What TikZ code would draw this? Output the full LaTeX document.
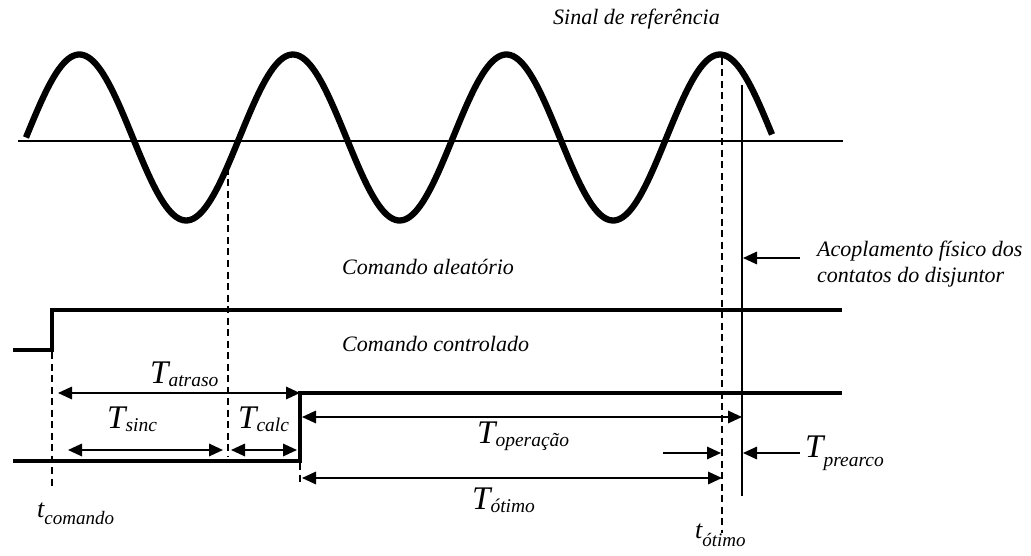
\documentclass[tikz,border=0pt]{standalone}
\usepackage{fontspec}
\setmainfont{Liberation Serif}
\usetikzlibrary{arrows.meta}
\newcommand{\Tlab}[3]{{\fontsize{33}{33}\selectfont\itshape #1}\raisebox{-#3}{\fontsize{19.5}{19.5}\selectfont\itshape #2}}
\newcommand{\tlab}[3]{{\fontsize{26}{26}\selectfont\itshape #1}\raisebox{-#3}{\fontsize{19}{19}\selectfont\itshape #2}}
\begin{document}
\begin{tikzpicture}[x=1pt,y=-1pt,
  sig/.style={line width=3.4pt},
  thinln/.style={line width=1.6pt},
  dsh/.style={line width=1.8pt, dash pattern=on 7pt off 4.5pt},
  dimarr/.style={line width=1.7pt, {Triangle[length=14pt,width=12.5pt]}-{Triangle[length=14pt,width=12.5pt]}},
  onearr/.style={line width=1.7pt, -{Triangle[length=14pt,width=12.5pt]}},
  lab/.style={font={\fontsize{22}{26}\selectfont\itshape}, inner sep=0pt, anchor=base west},
  tl/.style={inner sep=0pt, anchor=base west}]
\useasboundingbox (0,0) rectangle (1031,556);

% reference sine
\draw[line width=6.3pt] plot[domain=26:772, samples=300] (\x,{137.5-83*sin(((\x-26)/213.5)*360)});
\coordinate (ax0) at (18,141);
\coordinate (ax1) at (843,141);
\draw[thinln] (ax0) -- (ax1);

% breaker contact line
\coordinate (v0) at (742,85);
\coordinate (v1) at (742,496);
\draw[thinln] (v0) -- (v1);

% random command
\coordinate (ra0) at (13,350);
\coordinate (ra1) at (52,350);
\coordinate (ra2) at (52,310);
\coordinate (ra3) at (842,310);
\draw[sig] (ra0) -- (ra1) -- (ra2) -- (ra3);

% controlled command
\coordinate (rc0) at (13,461);
\coordinate (rc1) at (300,461);
\coordinate (rc2) at (300,393);
\coordinate (rc3) at (842,393);
\draw[sig] (rc0) -- (rc1) -- (rc2) -- (rc3);

% dashed lines
\coordinate (d1a) at (228,168);
\coordinate (d1b) at (228,456);
\draw[dsh] (d1a) -- (d1b);
\coordinate (d2a) at (722,58);
\coordinate (d2b) at (722,533);
\draw[dsh] (d2a) -- (d2b);
\coordinate (d3a) at (52,352);
\coordinate (d3b) at (52,490);
\draw[dsh] (d3a) -- (d3b);
\coordinate (d4a) at (300,463);
\coordinate (d4b) at (300,486);
\draw[dsh] (d4a) -- (d4b);

% dimension arrows
\coordinate (atr0) at (58,393);
\coordinate (atr1) at (300,393);
\draw[dimarr] (atr0) -- (atr1);
\coordinate (sin0) at (68,450);
\coordinate (sin1) at (223,450);
\draw[dimarr] (sin0) -- (sin1);
\coordinate (cal0) at (231,450);
\coordinate (cal1) at (297,450);
\draw[dimarr] (cal0) -- (cal1);
\coordinate (op0) at (302,417);
\coordinate (op1) at (742,417);
\draw[dimarr] (op0) -- (op1);
\coordinate (ot0) at (302,478);
\coordinate (ot1) at (722,478);
\draw[dimarr] (ot0) -- (ot1);
\coordinate (pa0) at (663,453);
\coordinate (pa1) at (721,453);
\draw[onearr] (pa0) -- (pa1);
\coordinate (pb0) at (800,453);
\coordinate (pb1) at (743,453);
\draw[onearr] (pb0) -- (pb1);
\coordinate (ac0) at (800,258);
\coordinate (ac1) at (743,258);
\draw[onearr] (ac0) -- (ac1);

% texts
\node[lab] (sinal) at (553,25) {Sinal de referência};
\node[lab] (cale) at (342,274) {Comando aleatório};
\node[lab] (ccon) at (342,351) {Comando controlado};
\node[lab] (acop1) at (817,257) {Acoplamento físico dos};
\node[lab] (acop2) at (817,282) {contatos do disjuntor};

\node[tl] (latr) at (150,383) {\Tlab{T}{atraso}{3pt}};
\node[tl] (lsin) at (107,428) {\Tlab{T}{sinc}{3pt}};
\node[tl] (lcal) at (238,428) {\Tlab{T}{calc}{3pt}};
\node[tl] (lop) at (477,443) {\Tlab{T}{operação}{3pt}};
\node[tl] (lot) at (472,509) {\Tlab{T}{ótimo}{3pt}};
\node[tl] (lpre) at (805,457) {\Tlab{T}{prearco}{9pt}};
\node[tl] (lcom) at (37,517) {\tlab{t}{comando}{7pt}};
\node[tl] (ltot) at (695,538) {\tlab{t}{ótimo}{8pt}};
\end{tikzpicture}
\end{document}
